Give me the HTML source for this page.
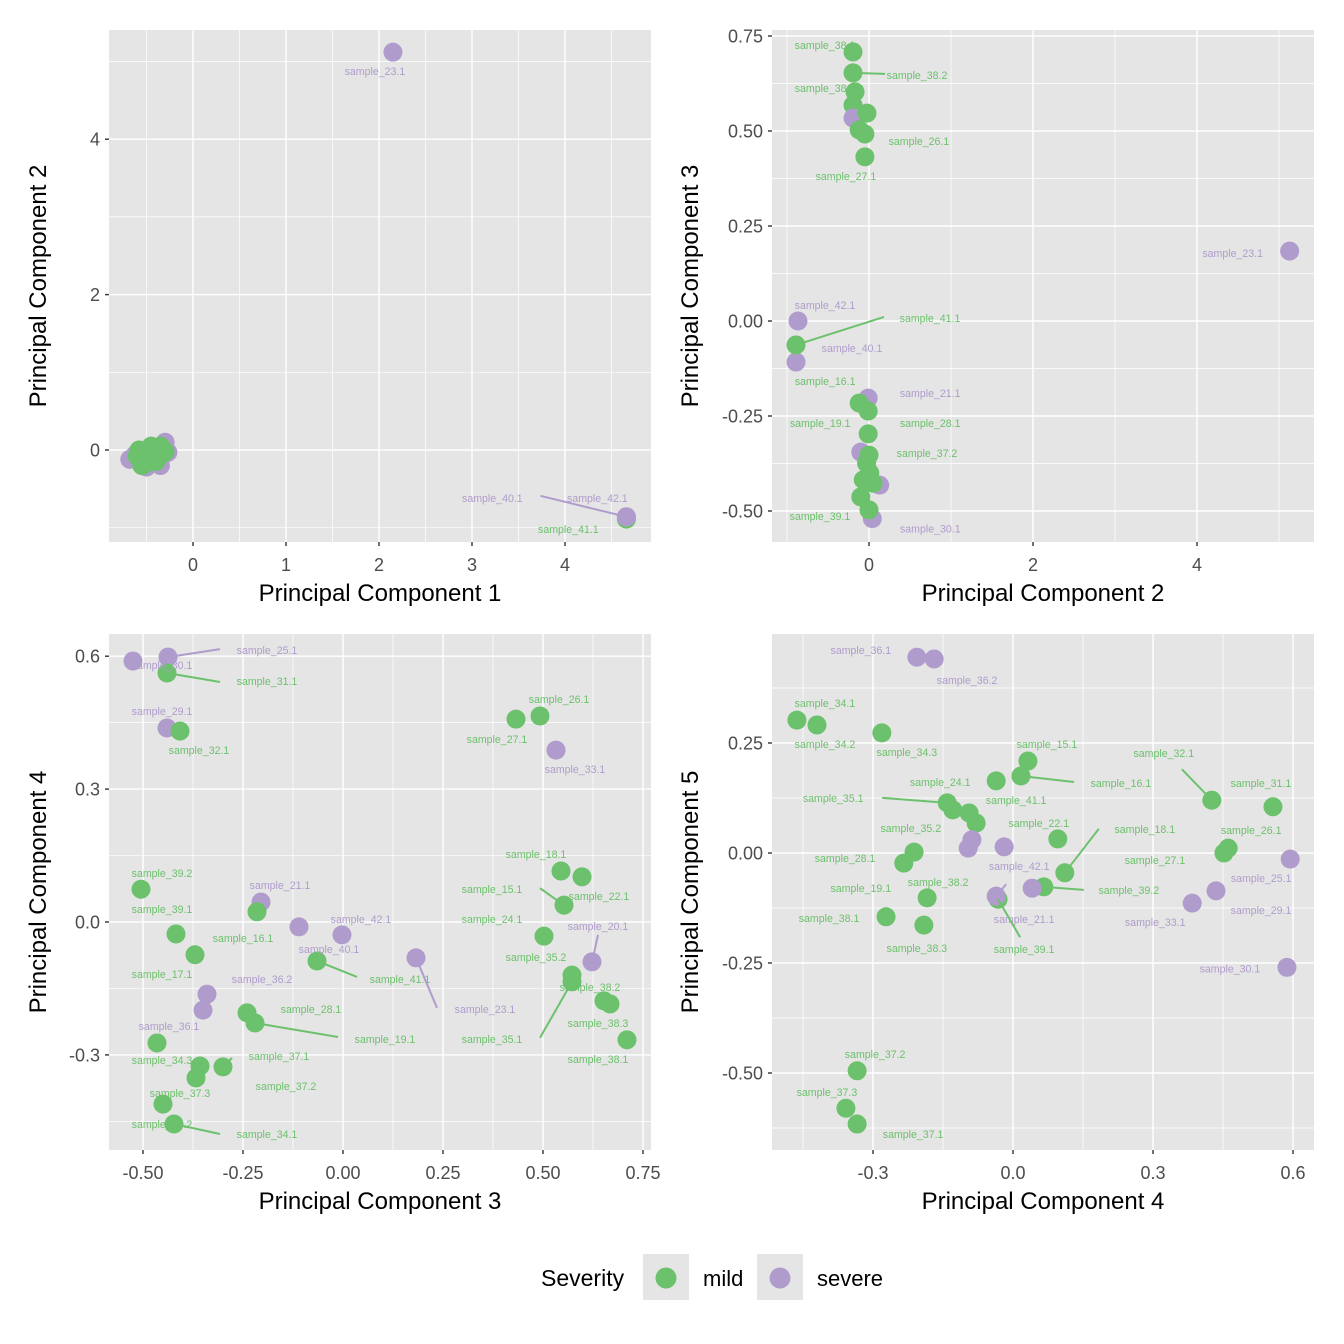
<!DOCTYPE html>
<html><head><meta charset="utf-8">
<style>
html,body{margin:0;padding:0;background:#fff;}
svg{display:block;font-family:"Liberation Sans",Arial,sans-serif;}
</style></head>
<body>
<svg id="chart" width="1344" height="1344" viewBox="0 0 1344 1344" xmlns="http://www.w3.org/2000/svg"></svg>
<script>
// ---------- Panel 1: PC1 vs PC2 ----------
const p1Labels = ["","","","","","","","","","","","","","","","","","","","","","","sample_23.1","sample_41.1","sample_40.1","sample_42.1"];
const p1Groups = ["severe","severe","severe","severe","severe","severe","mild","mild","mild","mild","mild","mild","mild","mild","mild","mild","mild","mild","mild","mild","mild","mild","severe","mild","severe","severe"];
const p1X = [-0.68,-0.3,-0.35,-0.62,-0.27,-0.5,-0.55,-0.5,-0.45,-0.52,-0.4,-0.35,-0.3,-0.6,-0.48,-0.42,-0.55,-0.38,-0.5,-0.45,-0.33,-0.58,2.15,4.66,4.66,4.66];
const p1Y = [-0.12,0.1,-0.2,-0.06,-0.03,-0.22,-0.05,0.0,-0.1,-0.18,-0.15,0.05,-0.02,-0.08,-0.12,0.02,-0.2,-0.08,-0.15,0.05,-0.05,0.0,5.12,-0.89,-0.86,-0.86];
const p1XTicks = [0,1,2,3,4];
const p1YTicks = [0,2,4];
const p1LabOff = [[0,0],[0,0],[0,0],[0,0],[0,0],[0,0],[0,0],[0,0],[0,0],[0,0],[0,0],[0,0],[0,0],[0,0],[0,0],[0,0],[0,0],[0,0],[0,0],[0,0],[0,0],[0,0],[-18,19],[-58,10],[-134,-19],[-29,-19]];
const p1Seg = {24:[-86,-21]};

// ---------- Panel 2: PC2 vs PC3 ----------
const p2Labels = ["sample_38.1","sample_38.2","sample_38.3","","","","","sample_26.1","sample_27.1","sample_23.1","sample_42.1","sample_40.1","sample_41.1","sample_21.1","sample_16.1","sample_19.1","sample_28.1","","sample_37.2","","","","","","","sample_30.1","sample_39.1"];
const p2Groups = ["mild","mild","mild","mild","severe","mild","mild","mild","mild","severe","severe","severe","mild","severe","mild","mild","mild","severe","mild","mild","severe","mild","mild","mild","mild","severe","mild"];
const p2X = [-0.195,-0.195,-0.17,-0.195,-0.195,-0.025,-0.12,-0.05,-0.05,5.13,-0.866,-0.89,-0.89,-0.01,-0.12,-0.01,-0.01,-0.1,0,-0.03,0.13,0.01,0.05,-0.07,-0.1,0.04,0];
const p2Y = [0.708,0.653,0.603,0.568,0.534,0.547,0.503,0.492,0.432,0.184,0.0,-0.108,-0.063,-0.203,-0.216,-0.237,-0.297,-0.345,-0.353,-0.374,-0.432,-0.4,-0.427,-0.418,-0.463,-0.52,-0.497];
const p2XTicks = [0,2,4];
const p2YTicks = [-0.5,-0.25,0,0.25,0.5,0.75];
const p2YTickText = ["-0.50","-0.25","0.00","0.25","0.50","0.75"];
const p2LabOff = [[-28,-7],[64,2],[-30,-4],[0,0],[0,0],[0,0],[0,0],[54,7],[-19,19],[-57,2],[27,-16],[56,-14],[134,-27],[62,-5],[-34,-22],[-48,12],[62,-11],[0,0],[58,-2],[0,0],[0,0],[0,0],[0,0],[0,0],[0,0],[58,10],[-49,6]];
const p2Seg = {1:[32,1],12:[88,-28]};

// ---------- Panel 3: PC3 vs PC4 ----------
const p3Labels = ["sample_30.1","sample_25.1","sample_31.1","sample_29.1","sample_32.1","sample_26.1","sample_27.1","sample_33.1","sample_39.2","sample_39.1","sample_21.1","sample_16.1","sample_17.1","sample_42.1","sample_40.1","sample_41.1","sample_36.2","sample_36.1","sample_28.1","sample_19.1","sample_34.3","sample_37.1","sample_37.2","sample_37.3","sample_34.2","sample_34.1","sample_23.1","sample_18.1","sample_22.1","sample_15.1","sample_24.1","sample_20.1","sample_35.2","sample_35.1","sample_38.2","sample_38.3","sample_38.1"];
const p3Groups = ["severe","severe","mild","severe","mild","mild","mild","severe","mild","mild","severe","mild","mild","severe","severe","mild","severe","severe","mild","mild","mild","mild","mild","mild","mild","mild","severe","mild","mild","mild","mild","severe","mild","mild","mild","mild","mild"];
const p3X = [-0.525,-0.4375,-0.44,-0.44,-0.4075,0.4925,0.4325,0.5325,-0.505,-0.4175,-0.205,-0.215,-0.37,-0.0025,-0.11,-0.065,-0.34,-0.35,-0.24,-0.22,-0.465,-0.30,-0.3575,-0.3675,-0.45,-0.4225,0.1825,0.545,0.5975,0.5525,0.5025,0.6225,0.5725,0.5725,0.6525,0.6675,0.71];
const p3Y = [0.589,0.598,0.562,0.438,0.431,0.465,0.458,0.388,0.074,-0.027,0.045,0.023,-0.074,-0.029,-0.011,-0.088,-0.163,-0.199,-0.205,-0.228,-0.273,-0.327,-0.325,-0.352,-0.411,-0.456,-0.081,0.115,0.102,0.038,-0.032,-0.09,-0.12,-0.135,-0.178,-0.185,-0.266];
const p3XTicks = [-0.5,-0.25,0,0.25,0.5,0.75];
const p3XTickText = ["-0.50","-0.25","0.00","0.25","0.50","0.75"];
const p3YTicks = [-0.3,0,0.3,0.6];
const p3YTickText = ["-0.3","0.0","0.3","0.6"];
const p3LabOff = [[29,4],[99,-7],[100,8],[-5,-17],[19,19],[19,-17],[-19,20],[19,19],[21,-16],[-14,-25],[19,-17],[-14,26],[-33,19],[19,-16],[30,22],[83,18],[55,-15],[-34,16],[64,-4],[130,16],[5,17],[56,-11],[86,20],[-16,15],[-1,20],[93,10],[69,51],[-25,-17],[17,19],[-72,-16],[-52,-17],[6,-36],[-36,-18],[-80,57],[-14,-14],[-12,19],[-29,19]];
const p3Seg = {1:[52,-8],2:[53,9],15:[40,16],19:[83,14],21:[9,-9],25:[46,10],26:[21,50],29:[-24,-17],31:[6,-27],33:[-32,56]};

// ---------- Panel 4: PC4 vs PC5 ----------
const p4Labels = ["sample_36.1","sample_36.2","sample_34.1","sample_34.2","sample_34.3","sample_15.1","sample_16.1","sample_24.1","sample_35.1","sample_35.2","sample_41.1","","","","","sample_28.1","sample_19.1","sample_22.1","sample_18.1","sample_39.2","sample_21.1","sample_38.2","sample_38.1","sample_38.3","sample_39.1","sample_42.1","sample_32.1","sample_31.1","sample_26.1","sample_27.1","sample_25.1","sample_29.1","sample_33.1","sample_30.1","sample_37.2","sample_37.3","sample_37.1"];
const p4Groups = ["severe","severe","mild","mild","mild","mild","mild","mild","mild","mild","mild","mild","severe","severe","severe","mild","mild","mild","mild","mild","severe","mild","mild","mild","mild","severe","mild","mild","mild","mild","severe","severe","severe","severe","mild","mild","mild"];
const p4X = [-0.206,-0.169,-0.463,-0.42,-0.281,0.032,0.017,-0.036,-0.141,-0.129,-0.094,-0.079,-0.088,-0.096,-0.019,-0.212,-0.234,0.096,0.111,0.066,0.041,-0.184,-0.272,-0.191,-0.032,-0.036,0.426,0.557,0.461,0.452,0.594,0.435,0.384,0.587,-0.334,-0.358,-0.334];
const p4Y = [0.445,0.441,0.302,0.291,0.273,0.209,0.175,0.164,0.114,0.098,0.091,0.068,0.03,0.011,0.014,0.002,-0.023,0.032,-0.045,-0.077,-0.08,-0.102,-0.145,-0.164,-0.105,-0.098,0.12,0.105,0.011,0.0,-0.014,-0.086,-0.114,-0.26,-0.495,-0.58,-0.616];
const p4XTicks = [-0.3,0,0.3,0.6];
const p4XTickText = ["-0.3","0.0","0.3","0.6"];
const p4YTicks = [-0.5,-0.25,0,0.25];
const p4YTickText = ["-0.50","-0.25","0.00","0.25"];
const p4LabOff = [[-56,-7],[33,21],[28,-17],[8,19],[25,19],[19,-17],[100,7],[-56,1],[-114,-5],[-42,18],[47,-13],[0,0],[0,0],[0,0],[0,0],[-69,6],[-43,25],[-19,-16],[80,-44],[85,3],[-8,31],[11,-16],[-57,1],[-7,23],[26,50],[23,-30],[-48,-47],[-12,-24],[23,-18],[-69,7],[-29,19],[45,19],[-37,19],[-57,1],[18,-17],[-19,-16],[56,10]];
const p4Seg = {6:[53,6],8:[-65,-5],18:[34,-44],19:[40,3],24:[22,38],25:[10,-12],26:[-30,-31]};

const COLORS = {mild:"#6cc16c", severe:"#b09ccc"};
const svg = document.getElementById('chart');
const NS = "http://www.w3.org/2000/svg";
function mk(tag, attrs, parent){
  const e = document.createElementNS(NS, tag);
  for (const k in attrs) e.setAttribute(k, attrs[k]);
  (parent||svg).appendChild(e);
  return e;
}

function drawPanel(cfg){
  const g = mk('g', {});
  
  
  const sx = v => cfg.x0px + (v - cfg.x0) * cfg.kx;
  const sy = v => cfg.y0px - (v - cfg.y0) * cfg.ky;
  const bg = mk('rect', {x:cfg.L, y:cfg.T, width:cfg.R-cfg.L, height:cfg.B-cfg.T, fill:'#e5e5e5'}, g);
  
  
  const clipId = 'clip-' + cfg.name;
  const cp = mk('clipPath', {id: clipId}, g);
  mk('rect', {x:cfg.L, y:cfg.T, width:cfg.R-cfg.L, height:cfg.B-cfg.T}, cp);
  const grid = mk('g', {'clip-path':'url(#'+clipId+')'}, g);
  
  
  const xt = cfg.xTicks, yt = cfg.yTicks;
  const dxs = xt[1]-xt[0], dys = yt[1]-yt[0];
  for (let v = xt[0]-dxs*1.5; v <= xt[xt.length-1]+dxs*1.6; v += dxs){
    const px = sx(v);
    if (px > cfg.L && px < cfg.R) mk('line', {x1:px, x2:px, y1:cfg.T, y2:cfg.B, stroke:'#fff', 'stroke-width':0.7}, grid);
  }
  for (let v = yt[0]-dys*1.5; v <= yt[yt.length-1]+dys*1.6; v += dys){
    const py = sy(v);
    if (py > cfg.T && py < cfg.B) mk('line', {x1:cfg.L, x2:cfg.R, y1:py, y2:py, stroke:'#fff', 'stroke-width':0.7}, grid);
  }
  xt.forEach((v,i) => {
    const px = sx(v);
    mk('line', {x1:px, x2:px, y1:cfg.T, y2:cfg.B, stroke:'#fff', 'stroke-width':1.4}, grid);
    mk('line', {x1:px, x2:px, y1:cfg.B, y2:cfg.B+4, stroke:'#333', 'stroke-width':1.4}, g);
    const t = mk('text', {x:px, y:cfg.B+29, 'text-anchor':'middle', 'font-size':18, fill:'#4d4d4d'}, g);
    t.textContent = cfg.xText ? cfg.xText[i] : String(v);
    
    
  });
  yt.forEach((v,i) => {
    const py = sy(v);
    mk('line', {x1:cfg.L, x2:cfg.R, y1:py, y2:py, stroke:'#fff', 'stroke-width':1.4}, grid);
    mk('line', {x1:cfg.L-4, x2:cfg.L, y1:py, y2:py, stroke:'#333', 'stroke-width':1.4}, g);
    const t = mk('text', {x:cfg.L-9, y:py+6.5, 'text-anchor':'end', 'font-size':18, fill:'#4d4d4d'}, g);
    t.textContent = cfg.yText ? cfg.yText[i] : String(v);
    
    
  });
  const xtitle = mk('text', {x:(cfg.L+cfg.R)/2, y:cfg.B+59, 'text-anchor':'middle', 'font-size':24, fill:'#000'}, g);
  xtitle.textContent = cfg.xTitle;
  
  
  const ytx = cfg.yTitleX + 8, ytyy = (cfg.T+cfg.B)/2;
  const ytitle = mk('text', {x:ytx, y:ytyy, 'text-anchor':'middle', 'font-size':24, fill:'#000', transform:'rotate(-90 '+ytx+' '+ytyy+')'}, g);
  ytitle.textContent = cfg.yTitle;
  
  

  const marks = mk('g', {'clip-path':'url(#'+clipId+')'}, g);
  cfg.xs.forEach((v,i) => {
    const c = mk('circle', {cx:sx(v), cy:sy(cfg.ys[i]), r:9.5, fill:COLORS[cfg.groups[i]]}, marks);
    
    
  });
  cfg.xs.forEach((v,i) => {
    if (!cfg.labels[i]) return;
    const px = sx(v), py = sy(cfg.ys[i]);
    const col = COLORS[cfg.groups[i]];
    const sg = cfg.seg[i];
    if (sg) mk('line', {x1:px, y1:py, x2:px+sg[0], y2:py+sg[1], stroke:col, 'stroke-width':2}, marks);
    const off = cfg.off[i];
    const t = mk('text', {x:px+off[0], y:py+off[1]+4, 'text-anchor':'middle', 'font-size':10.6, fill:col}, marks);
    t.textContent = cfg.labels[i];
    
    
  });
}

drawPanel({name:'panel-pc1-pc2', L:109, R:651, T:30, B:542, x0:0, x0px:193, kx:93, y0:0, y0px:450, ky:77.7, yTitleX:38,
  xTicks:p1XTicks, yTicks:p1YTicks, xTitle:'Principal Component 1', yTitle:'Principal Component 2',
  xs:p1X, ys:p1Y, groups:p1Groups, labels:p1Labels, off:p1LabOff, seg:p1Seg});
drawPanel({name:'panel-pc2-pc3', L:772, R:1314, T:30, B:542, x0:0, x0px:869, kx:82, y0:0, y0px:321, ky:380, yTitleX:690,
  xTicks:p2XTicks, yTicks:p2YTicks, yText:p2YTickText, xTitle:'Principal Component 2', yTitle:'Principal Component 3',
  xs:p2X, ys:p2Y, groups:p2Groups, labels:p2Labels, off:p2LabOff, seg:p2Seg});
drawPanel({name:'panel-pc3-pc4', L:109, R:651, T:634, B:1150, x0:0, x0px:343, kx:400, y0:0, y0px:922, ky:443, yTitleX:38,
  xTicks:p3XTicks, xText:p3XTickText, yTicks:p3YTicks, yText:p3YTickText, xTitle:'Principal Component 3', yTitle:'Principal Component 4',
  xs:p3X, ys:p3Y, groups:p3Groups, labels:p3Labels, off:p3LabOff, seg:p3Seg});
drawPanel({name:'panel-pc4-pc5', L:772, R:1314, T:634, B:1150, x0:0, x0px:1013, kx:466.7, y0:0, y0px:853, ky:440, yTitleX:690,
  xTicks:p4XTicks, xText:p4XTickText, yTicks:p4YTicks, yText:p4YTickText, xTitle:'Principal Component 4', yTitle:'Principal Component 5',
  xs:p4X, ys:p4Y, groups:p4Groups, labels:p4Labels, off:p4LabOff, seg:p4Seg});

// Legend
const lg = mk('g', {});


const lt = mk('text', {x:541, y:1286, 'font-size':23, fill:'#000'}, lg);
lt.textContent = 'Severity';


const legendItems = ['mild','severe'];
const legendKeyX = [643, 757];
legendItems.forEach((k,i) => {
  const item = mk('g', {}, lg);
  
  
  mk('rect', {x:legendKeyX[i], y:1254, width:46, height:46, fill:'#e5e5e5'}, item);
  mk('circle', {cx:legendKeyX[i]+23, cy:1278, r:10.5, fill:COLORS[k]}, item);
  const t = mk('text', {x:legendKeyX[i]+60, y:1286, 'font-size':22, fill:'#000'}, item);
  t.textContent = k;
});
</script>
</body></html>
